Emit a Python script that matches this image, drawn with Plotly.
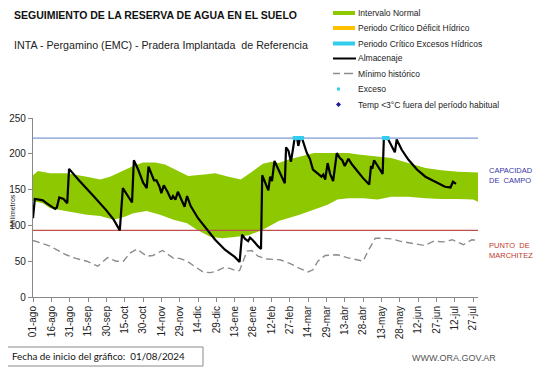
import plotly.graph_objects as go

# ---------------- data (day index from 01/08/2024) ----------------
tick_dias = [0, 15, 30, 45, 60, 75, 90, 105, 120, 135, 150, 165, 180, 195, 210,
             225, 240, 255, 270, 285, 300, 315, 330, 345, 360]
tick_labels = ["01-ago", "16-ago", "31-ago", "15-sep", "30-sep", "15-oct", "30-oct",
               "14-nov", "29-nov", "14-dic", "29-dic", "13-ene", "28-ene", "12-feb",
               "27-feb", "14-mar", "29-mar", "13-abr", "28-abr", "13-may", "28-may",
               "12-jun", "27-jun", "12-jul", "27-jul"]

sup_dias = [0, 4, 14, 27, 44, 55, 63, 82, 90, 100, 108, 118, 127, 140, 149, 160, 170,
            180, 188, 195, 201, 209, 218, 230, 241, 258, 266, 282, 293, 307, 321, 334,
            348, 364]
sup_vals = [170, 176, 173, 173, 168, 164, 168, 183, 188, 188, 185, 176, 169, 171, 173,
            168, 164, 176, 186, 189, 187, 192, 196, 201, 201, 201, 199, 196, 194, 187,
            180, 177, 175, 174]

inf_dias = [0, 8, 14, 27, 44, 55, 66, 75, 82, 93, 104, 115, 126, 134, 145, 155, 165,
            176, 188, 201, 218, 229, 241, 249, 258, 270, 282, 293, 307, 321, 334, 348,
            360, 364]
inf_vals = [134, 131, 124, 120, 115, 113, 108, 112, 117, 120, 115, 108, 103, 94, 84, 82,
            84, 86, 94, 106, 115, 122, 129, 136, 138, 138, 136, 140, 140, 138, 137, 137,
            136, 133]

alm_dias = [0, 1.5, 5, 8, 11, 15, 18, 19.5, 21.5, 25, 28, 29.5, 37, 50, 60, 66, 69, 71,
            73.5, 78, 81, 82.5, 86, 90, 93, 94.5, 97, 99, 101, 103.5, 105, 107, 110, 113,
            114.5, 116.5, 118.5, 121, 124, 126, 129, 135, 140, 143, 149, 157, 165, 169,
            171, 173.5, 176, 177.5, 180, 184, 186.5, 187.5, 191, 192.5, 194, 195.5, 197.5,
            200.5, 203.5, 206, 207, 209, 211, 212.5, 214, 216, 217, 218.5, 220, 224, 226.5,
            229, 233, 236, 237.5, 239, 241, 243, 245.5, 248.5, 251, 253, 255, 258, 261,
            266, 270, 275, 276.5, 277.5, 279, 286, 287, 290, 293, 296, 297.5, 301.5, 307,
            314, 321, 329, 337, 341.5, 343.5, 346]
alm_vals = [110, 137, 136, 135, 131, 127, 123, 125, 139, 137, 131, 179, 164, 140, 121,
            108, 100, 93, 152, 140, 132, 191, 178, 160, 152, 182, 172, 163, 163, 154, 145,
            156, 147, 136, 141, 136, 147, 137, 126, 141, 127, 110, 99, 94, 80, 66, 56, 49,
            87, 81, 78, 83, 79, 71, 67, 170, 157, 149, 168, 162, 190, 180, 168, 159, 209,
            204, 189, 205, 222, 222, 211, 222, 222, 201, 193, 178, 173, 168, 171, 164, 187,
            172, 162, 201, 194, 191, 183, 193, 185, 174, 166, 157, 183, 179, 191, 172, 222,
            222, 212, 202, 220, 206, 192, 178, 168, 161, 154, 153, 161, 158]

min_dias = [0, 14, 27, 35, 44, 53, 61, 68, 74, 79, 85, 93, 98, 106, 115, 120, 126, 134,
            139, 145, 150, 156, 161, 167, 169, 175, 179, 184, 191, 202, 210, 218, 225, 229,
            233, 239, 249, 257, 270, 274, 280, 287, 294, 300, 309, 320, 328, 336, 343, 352,
            359, 364]
min_vals = [79, 71, 59, 54, 50, 43, 55, 50, 50, 61, 67, 57, 58, 65, 54, 54, 50, 40, 35,
            34, 36, 41, 40, 36, 37, 64, 65, 57, 53, 52, 47, 40, 35, 38, 50, 58, 59, 55, 50,
            64, 82, 82, 81, 78, 75, 72, 78, 77, 80, 73, 80, 79]

exc_dias = [214, 215, 216, 218, 219, 220, 287, 288, 289, 290]
exc_vals = [222, 222, 222, 222, 222, 222, 222, 222, 222, 222]

capacidad_campo = 222
punto_marchitez = 93

# ---------------- figure ----------------
OFF = 8                      # page body margin
W, H = 541 - OFF, 368 - OFF
L, R, T, B = 25, 63, 110, 71
FONT = "Liberation Sans, Arial, sans-serif"
GREEN = "#8dc800"


def px(x):   # screen px -> paper
    return (x - OFF - L) / (W - L - R)


def py(y):
    return (H - B - (y - OFF)) / (H - T - B)


fig = go.Figure()
fig.add_trace(go.Scatter(x=inf_dias, y=inf_vals, mode="lines", line=dict(width=0, color=GREEN),
                         hoverinfo="skip", name="inf"))
fig.add_trace(go.Scatter(x=sup_dias, y=sup_vals, mode="lines", line=dict(width=0, color=GREEN),
                         fill="tonexty", fillcolor=GREEN, name="Intervalo Normal"))
fig.add_trace(go.Scatter(x=[0, 364], y=[capacidad_campo] * 2, mode="lines",
                         line=dict(color="#7f9ad6", width=1.2), name="CC"))
fig.add_trace(go.Scatter(x=[0, 364], y=[punto_marchitez] * 2, mode="lines",
                         line=dict(color="#c0504d", width=1.2), name="PMP"))
fig.add_trace(go.Scatter(x=min_dias, y=min_vals, mode="lines",
                         line=dict(color="#8c8c8c", width=1.4, dash="7px,4px"),
                         name="Mínimo histórico"))
fig.add_trace(go.Scatter(x=alm_dias, y=alm_vals, mode="lines",
                         line=dict(color="black", width=2.2), name="Almacenaje"))
fig.add_trace(go.Scatter(x=exc_dias, y=exc_vals, mode="markers",
                         marker=dict(color="#33ccee", size=4, symbol="square"), name="Exceso"))

fig.update_layout(
    width=W, height=H, margin=dict(l=L, r=R, t=T, b=B, autoexpand=False),
    paper_bgcolor="white", plot_bgcolor="white", showlegend=False,
    font=dict(family=FONT, size=10, color="#222"),
)
fig.update_xaxes(range=[0, 364], tickmode="array", tickvals=tick_dias, ticktext=tick_labels,
                 tickangle=-90, showgrid=False, zeroline=False, showline=True, automargin=False,
                 linecolor="#888", linewidth=1, ticks="outside", ticklen=4, tickcolor="#888",
                 tickfont=dict(size=10, color="#222"))
fig.update_yaxes(range=[0, 250], tickvals=[0, 50, 100, 150, 200, 250], showgrid=False,
                 zeroline=False, showline=True, linecolor="#888", linewidth=1.2, automargin=False,
                 ticks="outside", ticklen=4, tickcolor="#888",
                 tickfont=dict(size=10, color="#222"))

ann = []
shapes = []


def text(x, y, s, size, color="#222", bold=False, anchor="left", angle=0, fam=FONT):
    ann.append(dict(x=px(x), y=py(y), xref="paper", yref="paper", text=f"<b>{s}</b>" if bold else s,
                    showarrow=False, xanchor=anchor, yanchor="middle", textangle=angle,
                    font=dict(size=size, color=color, family=fam), align="left"))


text(12, 15, "SEGUIMIENTO DE LA RESERVA DE AGUA EN EL SUELO", 10.5, "#111", bold=True)
text(12, 45, "INTA - Pergamino (EMC) - Pradera Implantada  de Referencia", 10.7, "#222")
text(12, 211, "Milímetros", 7, "#222", anchor="center", angle=-90)
text(487, 175, "CAPACIDAD<br>DE  CAMPO", 7.5, "#3636a6")
text(487, 250, "PUNTO  DE<br>MARCHITEZ", 7.5, "#c0392b")
text(498, 358, "WWW.ORA.GOV.AR", 9, "#555", anchor="right")
text(10, 356, "Fecha de inicio del gráfico:  01/08/2024", 9.8, "#111", fam="Lato, Open Sans, sans-serif")

shapes.append(dict(type="rect", xref="paper", yref="paper", x0=px(4), x1=px(203), y0=py(347),
                   y1=py(366), line=dict(color="#8a8a8a", width=1), fillcolor="rgba(0,0,0,0)"))

# legend (drawn manually)
leg_y = [13, 28, 43.5, 58.5, 73.5, 89, 104.5]
leg_txt = ["Intervalo Normal", "Periodo Crítico Déficit Hídrico", "Periodo Crítico Excesos Hídricos",
           "Almacenaje", "Mínimo histórico", "Exceso", "Temp <3°C fuera del período habitual"]
for i, (yy, s) in enumerate(zip(leg_y, leg_txt)):
    text(356, yy, s, 8.5, "#222")
bars = [GREEN, "#ffc000", "#33ccee"]
for yy, c in zip(leg_y[:3], bars):
    shapes.append(dict(type="rect", xref="paper", yref="paper", x0=px(333), x1=px(355),
                       y0=py(yy + 2), y1=py(yy - 2), line=dict(width=0), fillcolor=c))
shapes.append(dict(type="line", xref="paper", yref="paper", x0=px(333), x1=px(356),
                   y0=py(leg_y[3]), y1=py(leg_y[3]), line=dict(color="black", width=2)))
for a, b in [(333, 340), (344, 353)]:
    shapes.append(dict(type="line", xref="paper", yref="paper", x0=px(a), x1=px(b),
                       y0=py(leg_y[4]), y1=py(leg_y[4]), line=dict(color="#8c8c8c", width=1.5)))
shapes.append(dict(type="rect", xref="paper", yref="paper", x0=px(337), x1=px(340),
                   y0=py(leg_y[5] + 1.5), y1=py(leg_y[5] - 1.5), line=dict(width=0), fillcolor="#33ccee"))
cx, cy = 338.5, leg_y[6]
shapes.append(dict(type="path", xref="paper", yref="paper",
                   path=f"M {px(cx - 2.5)},{py(cy)} L {px(cx)},{py(cy - 2.5)} L {px(cx + 2.5)},{py(cy)} "
                        f"L {px(cx)},{py(cy + 2.5)} Z",
                   line=dict(width=0), fillcolor="#1a1a9a"))

fig.update_layout(annotations=ann, shapes=shapes)
fig.write_html("out.html")
